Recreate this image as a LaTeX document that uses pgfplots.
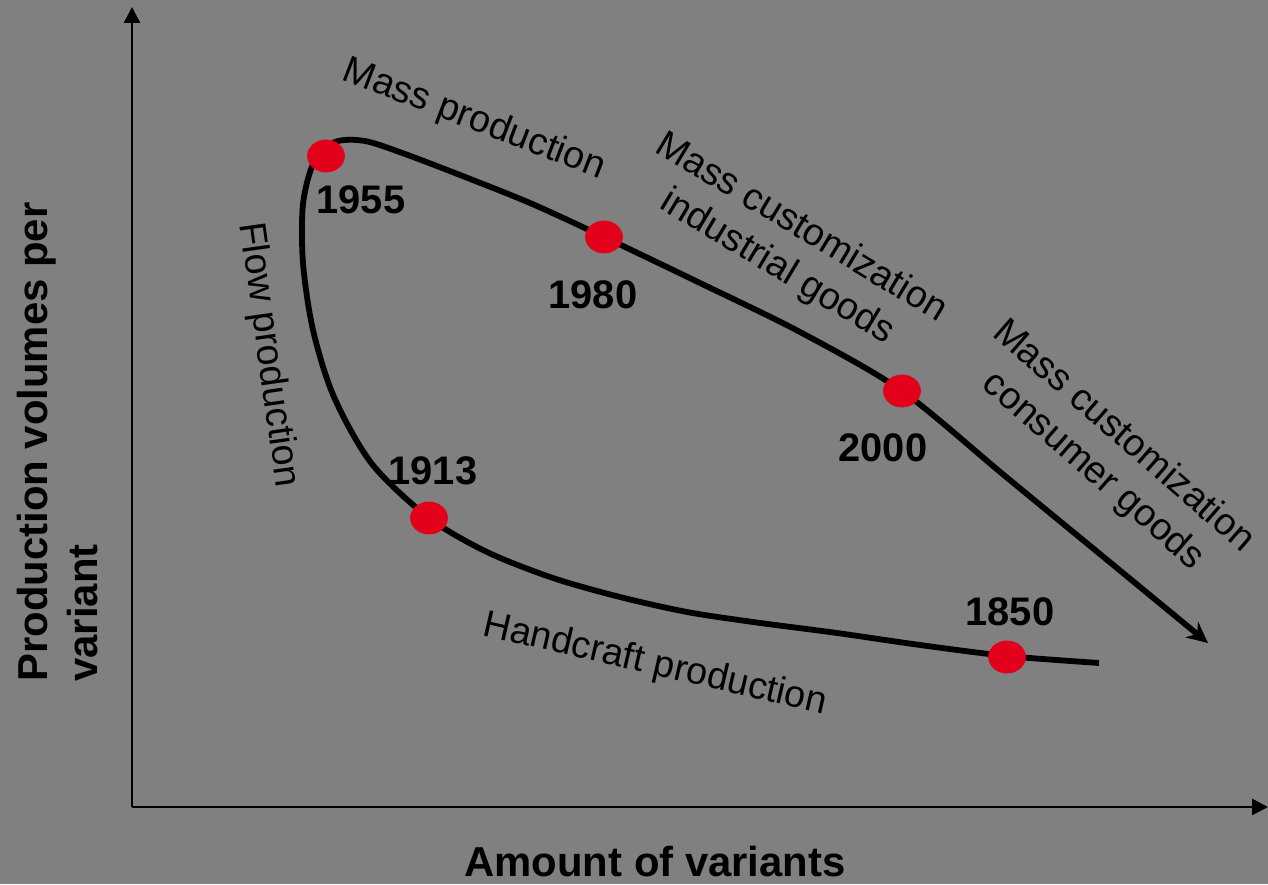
\documentclass[border=0pt]{standalone}
\usepackage{fontspec}
\setmainfont{Liberation Sans}
\usepackage{pgfplots}
\pgfplotsset{compat=1.18}
\usetikzlibrary{arrows.meta,backgrounds}
\definecolor{bg}{HTML}{808080}
\definecolor{dotred}{HTML}{E2001A}
\begin{document}
\begin{tikzpicture}
\begin{axis}[
 x=0.5bp, y=0.5bp,
 xmin=132, xmax=1268, ymin=77, ymax=877,
 axis lines=left,
 axis line style={line width=1.3bp, black},
 x axis line style={-{Triangle[length=8bp,width=8bp]}},
 y axis line style={-{Triangle[length=8bp,width=8bp]}},
 xtick=\empty, ytick=\empty,
 clip=false,
]
\coordinate (bl) at (axis cs:0,0);
\coordinate (tr) at (axis cs:1268,884);
% main curve (pixel-based coordinates, y = 884 - row)
\addplot[black, line width=2.9bp, smooth, tension=0.5, -{Stealth[length=10.5bp,width=10bp]}] coordinates {
 (1099,221) (1007,228) (920,239) (837,251) (753,262) (687,272) (620,287)
 (553,306) (487,332) (429,366) (372,420) (334,487) (313,554)
 (303,621) (303,680) (314,722) (335,742) (365,743) (405,730)
 (460,709) (530,681) (604,647) (700,601) (800,552) (902,493) (1005,408)
 (1106,325) (1208,241)
};
% year markers
\addplot[only marks, mark=*, mark size=8bp, color=dotred, mark options={xscale=1.15, fill=dotred, draw=dotred}] coordinates {
 (1007,227) (429,366) (326,728) (604,647) (902,493)
};
% year labels
\node[font=\fontsize{20}{24}\selectfont\bfseries, inner sep=0] at (axis cs:361,684) {1955};
\node[font=\fontsize{20}{24}\selectfont\bfseries, inner sep=0] at (axis cs:593,589) {1980};
\node[font=\fontsize{20}{24}\selectfont\bfseries, inner sep=0] at (axis cs:883,436) {2000};
\node[font=\fontsize{20}{24}\selectfont\bfseries, inner sep=0] at (axis cs:433,413) {1913};
\node[font=\fontsize{20}{24}\selectfont\bfseries, inner sep=0] at (axis cs:1010,272) {1850};
% phase labels
\node[font=\fontsize{19}{23}\selectfont, inner sep=0, rotate=-21] at (axis cs:474,764) {Mass production};
\node[font=\fontsize{19}{23}\selectfont, inner sep=0, rotate=-31, align=center] at (axis cs:789,636) {Mass customization\\industrial goods};
\node[font=\fontsize{19}{23}\selectfont, inner sep=0, rotate=-41, align=center] at (axis cs:1108,430) {Mass customization\\consumer goods};
\node[font=\fontsize{19}{23}\selectfont, inner sep=0, rotate=-82] at (axis cs:268,529) {Flow production};
\node[font=\fontsize{19}{23}\selectfont, inner sep=0, rotate=-13] at (axis cs:655,219) {Handcraft production};
% axis titles
\node[font=\fontsize{21}{25}\selectfont\bfseries, inner sep=0] at (axis cs:655,22) {Amount of variants};
\node[font=\fontsize{21}{25}\selectfont\bfseries, inner sep=0, rotate=90, anchor=north west, align=left] at (axis cs:17,202) {Production volumes per\\variant};
\end{axis}
\begin{pgfonlayer}{background}
\fill[bg] (bl) rectangle (tr);
\end{pgfonlayer}
\pgfresetboundingbox
\path[use as bounding box] (bl) rectangle (tr);
\end{tikzpicture}
\end{document}
